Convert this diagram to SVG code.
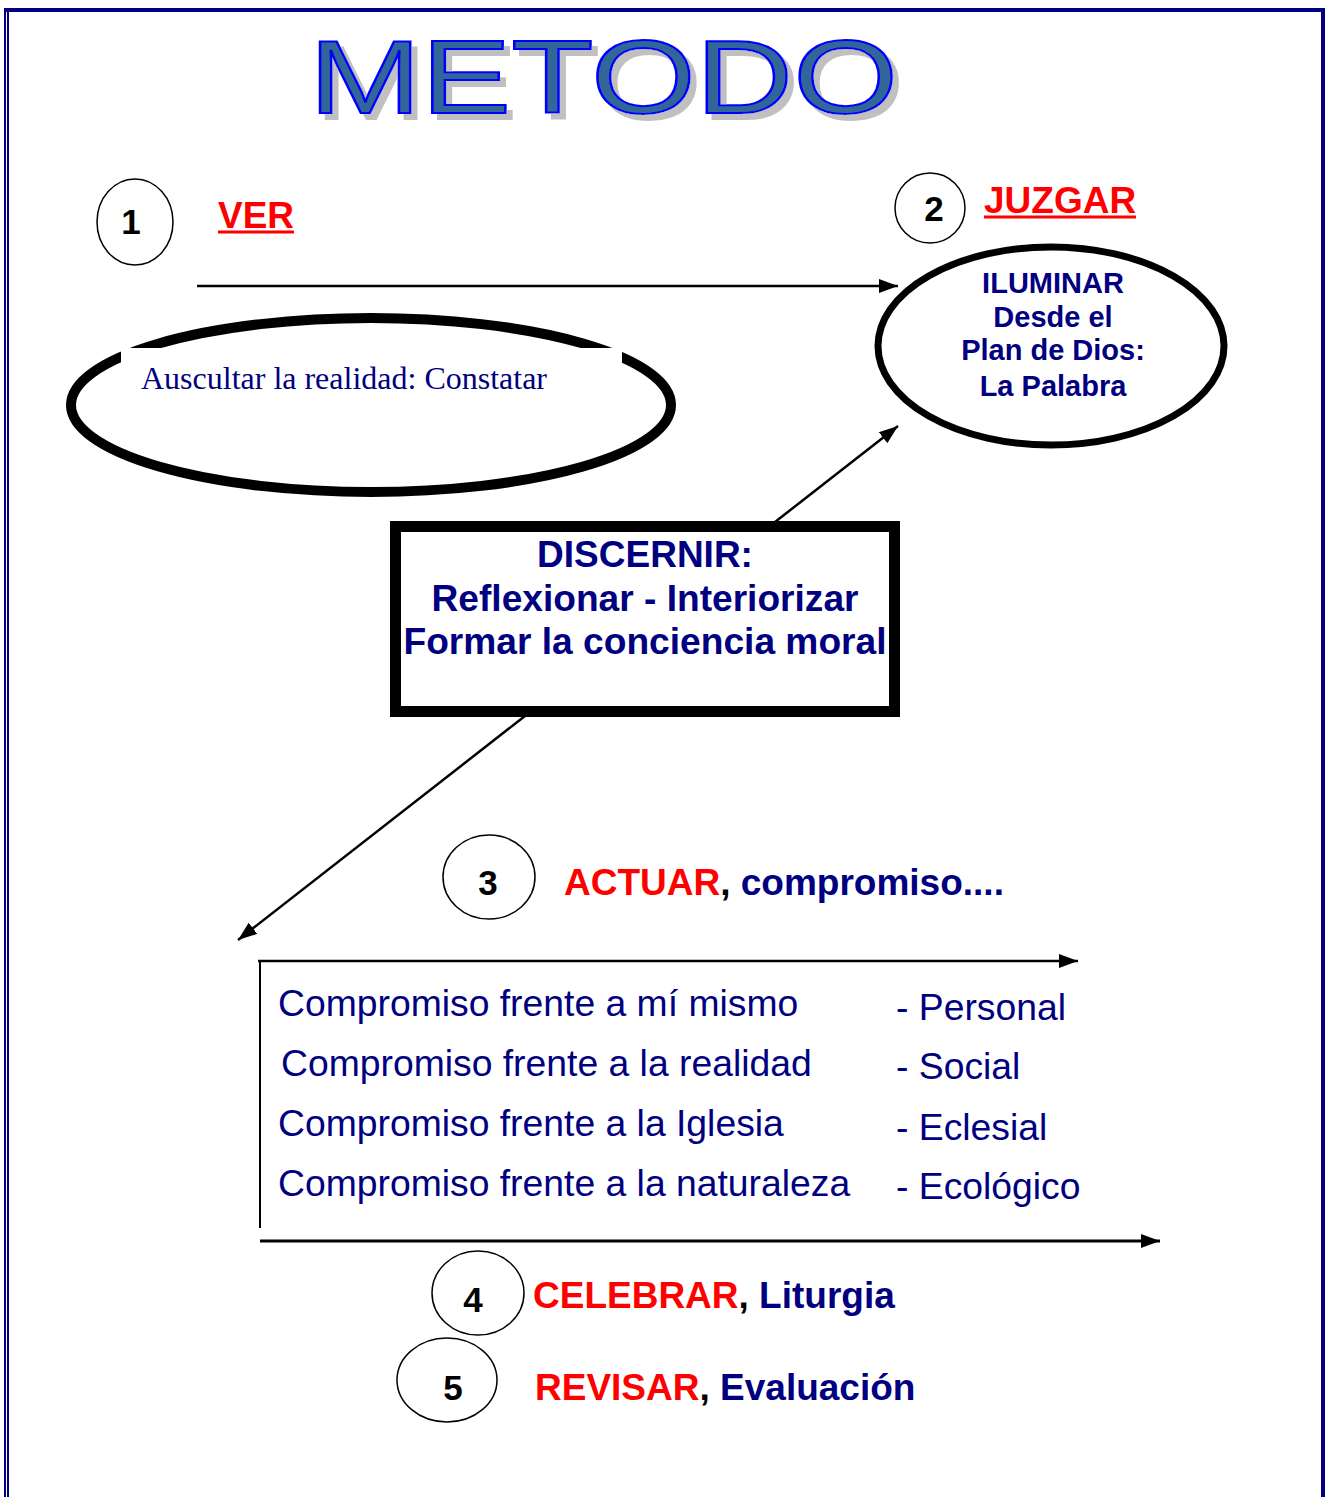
<svg xmlns="http://www.w3.org/2000/svg" width="1326" height="1497" viewBox="0 0 1326 1497">
<defs>
<marker id="ah" markerUnits="userSpaceOnUse" markerWidth="20" markerHeight="16" viewBox="0 0 20 16" refX="19" refY="8" orient="auto">
<path d="M0,1 L19,8 L0,15 Z" fill="#000"/>
</marker>
<filter id="shadow" x="-5%" y="-20%" width="115%" height="150%">
<feFlood flood-color="#C0C0C0" result="c"/>
<feComposite in="c" in2="SourceAlpha" operator="in" result="s"/>
<feOffset in="s" dx="6" dy="6" result="o"/>
<feMerge><feMergeNode in="o"/><feMergeNode in="SourceGraphic"/></feMerge>
</filter>
</defs>
<style>
.bd{stroke:#000080;fill:none}
.num{font-family:"Liberation Sans",Arial,sans-serif;font-weight:bold;font-size:35px;fill:#000;text-anchor:middle}
.circ{fill:#fff;stroke:#000;stroke-width:1.5}
.hd{font-family:"Liberation Sans",Arial,sans-serif;font-weight:bold;font-size:37px}
.red{fill:#FF0000}
.navy{fill:#000080}
.lst{font-family:"Liberation Sans",Arial,sans-serif;font-size:37.3px;fill:#000080}
.bl{font-family:"Liberation Sans",Arial,sans-serif;font-weight:bold;fill:#000080;text-anchor:middle}
.conn{stroke:#000;fill:none}
</style>
<rect width="1326" height="1497" fill="#fff"/>
<g id="border">
<line class="bd" x1="4" y1="10" x2="1325" y2="10" stroke-width="4"/>
<line class="bd" x1="1323" y1="8" x2="1323" y2="1497" stroke-width="4"/>
<line class="bd" x1="5" y1="8" x2="5" y2="1497" stroke-width="2"/>
<line class="bd" x1="8" y1="12" x2="8" y2="1497" stroke-width="2"/>
</g>
<g id="title">
<text x="309" y="113" font-family="Liberation Sans,Arial,sans-serif" font-size="104" textLength="589" lengthAdjust="spacingAndGlyphs" fill="#336699" stroke="#0000FF" stroke-width="2" filter="url(#shadow)">METODO</text>
</g>
<g id="connectors">
<line class="conn" x1="197" y1="286" x2="898" y2="286" stroke-width="2.5" marker-end="url(#ah)"/>
<line class="conn" x1="775" y1="522" x2="898" y2="426" stroke-width="2.5" marker-end="url(#ah)"/>
<line class="conn" x1="525" y1="716" x2="238" y2="940" stroke-width="2.5" marker-end="url(#ah)"/>
<line class="conn" x1="258" y1="961" x2="1078" y2="961" stroke-width="2.5" marker-end="url(#ah)"/>
<line class="conn" x1="260" y1="961" x2="260" y2="1228" stroke-width="2"/>
<line class="conn" x1="260" y1="1241" x2="1160" y2="1241" stroke-width="3" marker-end="url(#ah)"/>
</g>
<g id="n1">
<ellipse class="circ" cx="135" cy="222" rx="38" ry="43"/>
<text class="num" x="131" y="234">1</text>
<text class="hd red" x="218" y="228" font-size="36">VER</text>
<line x1="218" y1="232" x2="294" y2="232" stroke="#FF0000" stroke-width="3"/>
</g>
<g id="ver-ellipse">
<ellipse cx="371" cy="405" rx="300" ry="87" fill="#fff" stroke="#000" stroke-width="10"/>
<rect x="121" y="348" width="501" height="70" fill="#fff"/>
<text x="141" y="389" font-family="Liberation Serif,'Times New Roman',serif" font-size="31" textLength="406" lengthAdjust="spacingAndGlyphs" fill="#000080">Auscultar la realidad: Constatar</text>
</g>
<g id="n2">
<ellipse class="circ" cx="930" cy="208" rx="35" ry="35"/>
<text class="num" x="934" y="221">2</text>
<text class="hd red" x="984" y="213" font-size="36">JUZGAR</text>
<line x1="984" y1="217" x2="1136" y2="217" stroke="#FF0000" stroke-width="3"/>
</g>
<g id="iluminar">
<ellipse cx="1051" cy="346" rx="173" ry="99" fill="#fff" stroke="#000" stroke-width="7"/>
<text class="bl" x="1053" y="293" font-size="29">ILUMINAR</text>
<text class="bl" x="1053" y="327" font-size="29">Desde el</text>
<text class="bl" x="1053" y="360" font-size="29">Plan de Dios:</text>
<text class="bl" x="1053" y="396" font-size="29">La Palabra</text>
</g>
<g id="discernir">
<rect x="395.5" y="526.5" width="499" height="185" fill="#fff" stroke="#000" stroke-width="11"/>
<text class="bl" x="645" y="567" font-size="37">DISCERNIR:</text>
<text class="bl" x="645" y="611" font-size="37" textLength="427" lengthAdjust="spacingAndGlyphs">Reflexionar - Interiorizar</text>
<text class="bl" x="645" y="654" font-size="37" textLength="483" lengthAdjust="spacingAndGlyphs">Formar la conciencia moral</text>
</g>
<g id="n3">
<ellipse class="circ" cx="489" cy="877" rx="46" ry="42"/>
<text class="num" x="488" y="895">3</text>
<text class="hd" x="564" y="895"><tspan class="red">ACTUAR</tspan><tspan fill="#000">,</tspan><tspan class="navy"> compromiso....</tspan></text>
</g>
<g id="compromisos">
<text class="lst" x="278" y="1016">Compromiso frente a mí mismo</text>
<text class="lst" x="281" y="1076">Compromiso frente a la realidad</text>
<text class="lst" x="278" y="1136">Compromiso frente a la Iglesia</text>
<text class="lst" x="278" y="1196">Compromiso frente a la naturaleza</text>
<text class="lst" x="896" y="1020">- Personal</text>
<text class="lst" x="896" y="1079">- Social</text>
<text class="lst" x="896" y="1140">- Eclesial</text>
<text class="lst" x="896" y="1199">- Ecológico</text>
</g>
<g id="n4">
<ellipse class="circ" cx="478" cy="1293" rx="46" ry="42"/>
<text class="num" x="473" y="1312">4</text>
<text class="hd" x="533" y="1308"><tspan class="red">CELEBRAR</tspan><tspan fill="#000">,</tspan><tspan class="navy"> Liturgia</tspan></text>
</g>
<g id="n5">
<ellipse class="circ" cx="447" cy="1380" rx="50" ry="42"/>
<text class="num" x="453" y="1400">5</text>
<text class="hd" x="535" y="1400"><tspan class="red">REVISAR</tspan><tspan fill="#000">,</tspan><tspan class="navy"> Evaluación</tspan></text>
</g>
</svg>
